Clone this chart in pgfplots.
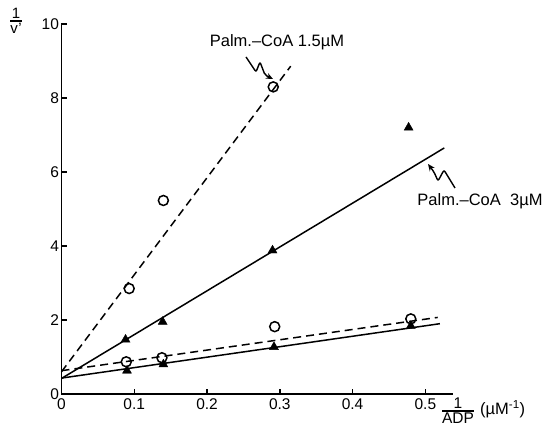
\documentclass[border=0pt]{standalone}
\usepackage{pgfplots}
\pgfplotsset{compat=1.18}
\usepackage{fontspec}
\setmainfont{Liberation Sans}
\usetikzlibrary{arrows.meta}
\begin{document}
\begin{tikzpicture}
\path[use as bounding box] (0pt,0pt) rectangle (543pt,430pt);
\begin{axis}[at={(61.5pt,36pt)}, anchor=south west, scale only axis,
  width=391.5pt, height=370pt,
  xmin=0, xmax=0.538, ymin=0, ymax=10,
  axis x line=bottom, axis y line=left,
  axis line style={-, line width=1.8pt},
  xtick={0,0.1,0.2,0.3,0.4,0.5}, xticklabels={0,0.1,0.2,0.3,0.4,0.5},
  ytick={0,2,4,6,8,10},
  tick align=inside, major tick length=5pt,
  tick style={line width=1.4pt, black},
  ticklabel style={font=\fontsize{15.5}{18}\selectfont},
  xticklabel style={yshift=-1pt},
  yticklabel style={xshift=1pt},
  /pgf/number format/assume math mode=true,
  clip=false]
% fitted lines
\addplot[black, line width=1.5pt, dash pattern=on 8pt off 5pt] coordinates {(0,0.6) (0.315,8.86)};
\addplot[black, line width=1.5pt] coordinates {(0,0.42) (0.526,6.65)};
\addplot[black, line width=1.5pt, dash pattern=on 8pt off 5pt] coordinates {(0,0.63) (0.517,2.07)};
\addplot[black, line width=1.5pt] coordinates {(0,0.43) (0.52,1.90)};
% open circles
\addplot[only marks, mark=o, mark size=5pt, mark options={line width=1.5pt, fill=white}] coordinates {
(0.093,2.85) (0.14,5.23) (0.291,8.3)
(0.089,0.87) (0.138,0.98) (0.293,1.82) (0.48,2.03)};
% filled triangles
\addplot[only marks, mark=triangle*, mark size=5.2pt, mark options={fill=black}] coordinates {
(0.088,1.47) (0.139,1.95) (0.29,3.88) (0.477,7.2)
(0.09,0.63) (0.14,0.80) (0.292,1.27) (0.48,1.84)};
\end{axis}
\begin{scope}[x=1pt,y=-1pt,yshift=430pt]
\node[font=\fontsize{15}{16}\selectfont, inner sep=0pt] at (16,23)
  {\begin{tabular}{@{}c@{}}1\\[-3pt]\noalign{\hrule height 1.3pt}\rule{0pt}{12pt}v\kern0.5pt'\end{tabular}};
\node[font=\fontsize{15.5}{16}\selectfont, inner sep=0pt] at (458,413)
  {\begin{tabular}{@{}c@{}}1\\[-3pt]\noalign{\hrule height 1.3pt}\rule{0pt}{12pt}ADP\end{tabular}};
\node[font=\fontsize{16.5}{18}\selectfont, anchor=west, inner sep=0pt] at (480,409) {(µM\textsuperscript{-1})};
\node[font=\fontsize{16.5}{18}\selectfont, inner sep=0pt] at (277,42) {Palm.--CoA 1.5µM};
\node[font=\fontsize{16.5}{18}\selectfont, inner sep=0pt] at (480,201) {Palm.--CoA\ \ 3µM};
\draw[line width=1.4pt, rounded corners=2pt, -{Stealth[length=7pt,width=6pt]}]
  (246,57) -- (256,72) -- (260,62) -- (265,75) -- (273,79);
\draw[line width=1.4pt, rounded corners=2pt, -{Stealth[length=7pt,width=6pt]}]
  (455,188) -- (444,170) -- (438,181) -- (434,172) -- (428,164);
\end{scope}
\end{tikzpicture}
\end{document}
